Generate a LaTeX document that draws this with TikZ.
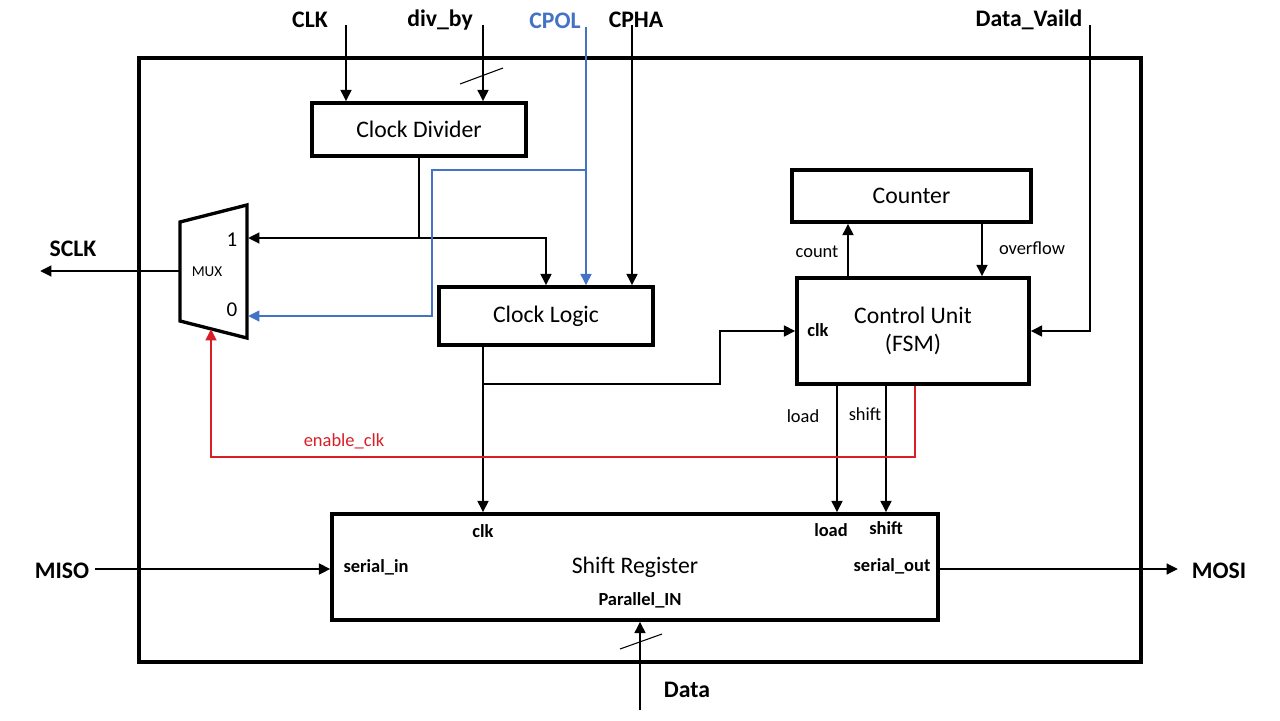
\documentclass[tikz,border=0pt]{standalone}
\usepackage{fontspec}
\setmainfont{Carlito}
\usetikzlibrary{arrows.meta}
\tikzset{>={Triangle[length=6.5pt,width=6pt]}}
\definecolor{cpolblue}{RGB}{68,114,196}
\definecolor{enred}{RGB}{218,30,38}

\begin{document}
\begin{tikzpicture}[x=0.02cm, y=-0.02cm, line width=1.6pt,
    block/.style={draw, rectangle, line width=1.9pt, inner sep=0pt, align=center, font=\fontsize{13.5}{16}\selectfont},
    extlabel/.style={font=\bfseries\fontsize{13.5}{16}\selectfont, inner sep=0pt},
    portlabel/.style={font=\bfseries\fontsize{10.5}{12}\selectfont, inner sep=0pt},
    siglabel/.style={font=\fontsize{10.5}{12}\selectfont, inner sep=0pt}]

    \fill[white] (0,0) rectangle (1280,720);
    \useasboundingbox (0,0) rectangle (1280,720);

    % Outer frame
    \draw[line width=1.9pt] (139,58) rectangle (1141,662);

    % Nodes
    \node (Div) [block, minimum width=4.28cm, minimum height=1.06cm] at (419,129.5) {Clock Divider};
    \node (Logic) [block, minimum width=4.28cm, minimum height=1.16cm] at (546,316) {Clock Logic};
    \node (Counter) [block, minimum width=4.78cm, minimum height=1.04cm] at (911.5,196) {Counter};
    \node (FSM) [block, minimum width=4.64cm, minimum height=2.12cm] at (913,331) {Control Unit\\(FSM)};
    \node (Shift) [block, minimum width=12.12cm, minimum height=2.12cm] at (635,567) {Shift Register};

    % MUX
    \draw[line width=1.9pt] (180,222) -- (247,205) -- (247,338) -- (180,321) -- cycle;
    \node (MuxText) [font=\fontsize{8.6}{10}\selectfont, inner sep=0pt] at (207,272) {MUX};
    \node (MuxOne) [font=\fontsize{12}{14}\selectfont, inner sep=0pt] at (232,240) {1};
    \node (MuxZero) [font=\fontsize{12}{14}\selectfont, inner sep=0pt] at (232,310) {0};
    \coordinate (mux1) at (248,238);
    \coordinate (mux0) at (248,316);
    \coordinate (muxout) at (180,271);
    \coordinate (muxsel) at (211,329);

    % Outside labels
    \node (CLK) [extlabel] at (310,20) {CLK};
    \node (DivBy) [extlabel] at (440,20) {div\_by};
    \node (CPOL) [extlabel, text=cpolblue] at (555,21) {CPOL};
    \node (CPHA) [extlabel] at (636,20) {CPHA};
    \node (DV) [extlabel] at (1029,20) {Data\_Vaild};
    \node (SCLK) [extlabel] at (73,249) {SCLK};
    \node (MISO) [extlabel] at (62,571) {MISO};
    \node (MOSI) [extlabel] at (1219,571) {MOSI};
    \node (Data) [extlabel] at (687,690) {Data};

    % Port labels
    \node (FsmClk) [portlabel] at (818,330) {clk};
    \node (SrClk) [portlabel] at (483,531) {clk};
    \node (SrLoad) [portlabel] at (831,530) {load};
    \node (SrShift) [portlabel] at (886,528) {shift};
    \node (SrIn) [portlabel] at (376,567) {serial\_in};
    \node (SrOut) [portlabel] at (892,566) {serial\_out};
    \node (SrPar) [portlabel] at (640,600) {Parallel\_IN};

    % Signal labels
    \node (CountLbl) [siglabel] at (817,252) {count};
    \node (OvfLbl) [siglabel] at (1032,248) {overflow};
    \node (LoadLbl) [siglabel] at (803,416) {load};
    \node (ShiftLbl) [siglabel] at (865,414) {shift};
    \node (EnLbl) [siglabel, text=enred] at (344,441) {enable\_clk};

    % Free ends
    \coordinate (clkTop) at (346,25);
    \coordinate (divTop) at (483,25);
    \coordinate (cpolTop) at (586,27);
    \coordinate (cpolSplit) at (586,170);
    \coordinate (cphaTop) at (632,25);
    \coordinate (dvTop) at (1090,25);
    \coordinate (logicOut) at (483,345);
    \coordinate (sclkEnd) at (40,271);
    \coordinate (misoStart) at (95,569);
    \coordinate (mosiEnd) at (1178,569);
    \coordinate (dataBot) at (640,710);

    % Arrows
    \draw[->] (clkTop) -- (clkTop |- Div.north);
    \draw[->] (divTop) -- (divTop |- Div.north);
    \draw[line width=0.6pt] (460,84) -- (503,68);
    \draw[->] (Div.south) |- (mux1);
    \draw[->] (Div.south |- mux1) -| (Logic.north);
    \draw[cpolblue, ->] (cpolTop) -- (cpolTop |- Logic.north);
    \draw[cpolblue, ->] (cpolSplit) -- ++(-154,0) |- (mux0);
    \draw[->] (cphaTop) -- (cphaTop |- Logic.north);
    \draw[->] (logicOut) -- (logicOut |- Shift.north);
    \draw[->] (logicOut |- 0,384) -- (720,384) |- (FSM.west);
    \draw[->] (dvTop) |- (FSM.east);
    \draw[->] (FSM.north -| 848,0) -- (Counter.south -| 848,0);
    \draw[->] (Counter.south -| 982,0) -- (FSM.north -| 982,0);
    \draw[->] (FSM.south -| 837,0) -- (Shift.north -| 837,0);
    \draw[->] (FSM.south -| 886,0) -- (Shift.north -| 886,0);
    \draw[enred, ->] (FSM.south -| 915,0) -- (915,457) -| (muxsel);
    \draw[->] (muxout) -- (sclkEnd);
    \draw[->] (misoStart) -- (misoStart -| Shift.west);
    \draw[->] (Shift.east |- mosiEnd) -- (mosiEnd);
    \draw[->] (dataBot) -- (dataBot |- Shift.south);
    \draw[line width=0.6pt] (620,649) -- (662,634);
\end{tikzpicture}
\end{document}
